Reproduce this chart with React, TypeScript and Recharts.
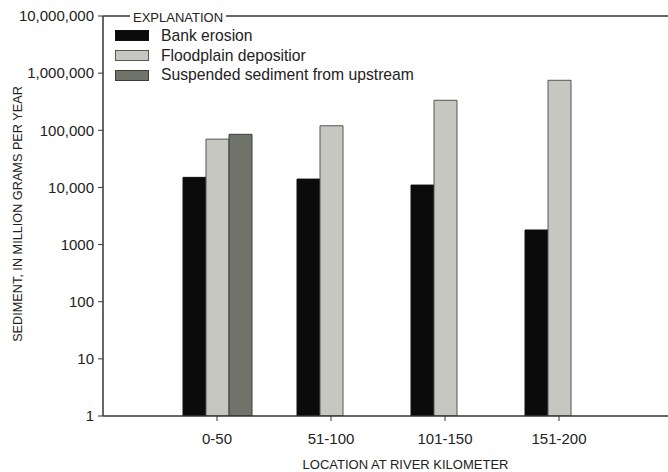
import React from 'react';
import { BarChart, Bar, XAxis, YAxis, Legend, ReferenceLine, Label } from 'recharts';

const locations = ['0-50', '51-100', '101-150', '151-200'];
const bankErosion = [15000, 14000, 11000, 1800];
const floodplainDeposition = [70000, 120000, 335000, 750000];
const suspendedUpstream: (number | null)[] = [85000, null, null, null];
const yTicks = [1, 10, 100, 1000, 10000, 100000, 1000000, 10000000];

const SERIES = [
  { key: 'bank', name: 'Bank erosion', fill: '#0b0b0b', stroke: '#111' },
  { key: 'flood', name: 'Floodplain depositior', fill: '#c6c7c0', stroke: '#55574f' },
  { key: 'susp', name: 'Suspended sediment from upstream', fill: '#70736a', stroke: '#3c3e38' },
];

const data = locations.map((loc, i) => ({
  loc,
  bank: bankErosion[i],
  flood: floodplainDeposition[i],
  susp: suspendedUpstream[i],
}));

const FONT = '"Liberation Sans", Arial, sans-serif';

const fmtTick = (v: number) => (v >= 10000 ? v.toLocaleString('en-US') : String(v));

function Explanation() {
  return (
    <div style={{ position: 'relative', fontFamily: FONT, color: '#222', textAlign: 'left' }}>
      <div style={{ fontSize: 13, lineHeight: '16px', background: '#fff', padding: '0 3px', display: 'inline-block' }}>
        EXPLANATION
      </div>
      {SERIES.map(s => (
        <div key={s.key} style={{ display: 'flex', alignItems: 'center', height: 19.7, marginLeft: -15 }}>
          <span style={{ width: 32, height: 9, background: s.fill, border: `1px solid ${s.stroke}`, marginRight: 12 }} />
          <span style={{ fontSize: 15.7 }}>{s.name}</span>
        </div>
      ))}
    </div>
  );
}

export default function App() {
  return (
    <div style={{ position: 'absolute', left: 0, top: 0, background: '#fff' }}>
      <BarChart
        width={668}
        height={472}
        data={data}
        margin={{ top: 16, right: 0, left: 0, bottom: 0 }}
        barCategoryGap={23}
        barGap={0}
      >
        <ReferenceLine y={10000000} stroke="#333" strokeWidth={1.5} />
        <XAxis
          dataKey="loc"
          height={56}
          padding={{ left: 57, right: 52 }}
          axisLine={{ stroke: '#333', strokeWidth: 1.5 }}
          tickLine={{ stroke: '#333' }}
          tickSize={5}
          tickMargin={12}
          tick={{ fill: '#222', fontSize: 15, fontFamily: FONT }}
        >
          <Label
            value="LOCATION AT RIVER KILOMETER"
            position="insideBottom"
            offset={3}
            dx={20}
            style={{ fill: '#222', fontSize: 13, fontFamily: FONT }}
          />
        </XAxis>
        <YAxis
          scale="log"
          domain={[1, 10000000]}
          allowDataOverflow
          ticks={yTicks}
          interval={0}
          width={103}
          tickFormatter={fmtTick}
          axisLine={{ stroke: '#333', strokeWidth: 1.5 }}
          tickLine={{ stroke: '#333' }}
          tickSize={5}
          tickMargin={4}
          tick={{ fill: '#222', fontSize: 15, fontFamily: FONT }}
        >
          <Label
            value="SEDIMENT, IN MILLION GRAMS PER YEAR"
            angle={-90}
            position="insideLeft"
            offset={17}
            dy={-2}
            style={{ fill: '#222', fontSize: 12.7, fontFamily: FONT, textAnchor: 'middle' }}
          />
        </YAxis>
        <Legend
          layout="horizontal"
          align="center"
          verticalAlign="middle"
          content={() => <Explanation />}
          wrapperStyle={{ position: 'absolute', left: 130, top: 8, width: 330 }}
        />
        {SERIES.map(s => (
          <Bar
            key={s.key}
            dataKey={s.key}
            name={s.name}
            fill={s.fill}
            stroke={s.stroke}
            strokeWidth={1}
            isAnimationActive={false}
          />
        ))}
      </BarChart>
    </div>
  );
}
